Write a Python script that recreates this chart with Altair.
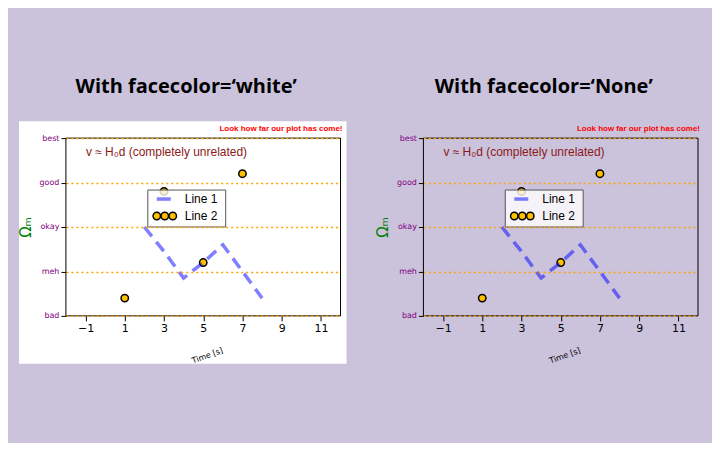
import altair as alt
import pandas as pd

line_x = [2, 3, 4, 5, 6, 7, 8]
line_y = [2.0, 1.45, 0.85, 1.2, 1.6, 1.0, 0.4]
pts_x = [1, 3, 5, 7]
pts_y = [0.4, 2.8, 1.2, 3.2]
levels = ["bad", "meh", "okay", "good", "best"]
titles = ["With facecolor=\u2018white\u2019", "With facecolor=\u2018None\u2019"]

W, H = 275, 178
one = pd.DataFrame({"a": [0]})

def panel(title, white):
    xs = alt.Scale(domain=[-2, 12], nice=False)
    ys = alt.Scale(domain=[0, 4], nice=False)
    xax = alt.Axis(values=[-1, 1, 3, 5, 7, 9, 11], grid=False, labelFontSize=11, labelColor="black",
                   tickColor="black", domain=False, title="Time  [s]", titleAngle=340, titleFontSize=8,
                   titleFontWeight="normal", titleY=36, titleX=140, zindex=1)
    yax = alt.Axis(values=[0, 1, 2, 3, 4], labelExpr="['bad','meh','okay','good','best'][datum.value]",
                   labelColor="#800080", labelFontSize=8, grid=True, gridColor="orange", gridDash=[2, 3],
                   gridWidth=1.5, domain=False, tickColor="black", title="\u03a9\u2098", titleColor="green",
                   titleFontSize=15, titleFontWeight="normal", titlePadding=6, zindex=1)
    layers = []
    layers.append(alt.Chart(one).mark_rect(color="white", opacity=1 if white else 0).encode(
        x=alt.value(-47), x2=alt.value(281), y=alt.value(-17), y2=alt.value(226)))
    ld = pd.DataFrame({"x": line_x, "y": line_y})
    pd_ = pd.DataFrame({"x": pts_x, "y": pts_y})
    layers.append(alt.Chart(pd_).mark_point(shape="circle", filled=True, fill="#ffc000", stroke="black",
                                            strokeWidth=1.5, size=55, opacity=1).encode(
        x=alt.X("x:Q", scale=xs, axis=xax), y=alt.Y("y:Q", scale=ys, axis=yax)))
    layers.append(alt.Chart(ld).mark_line(color="#0000ff", opacity=0.5, strokeWidth=3.5, strokeDash=[12, 7]).encode(
        x=alt.X("x:Q", scale=xs), y=alt.Y("y:Q", scale=ys)))
    layers.append(alt.Chart(one).mark_rect(fill=None, stroke="black", strokeWidth=1).encode(
        x=alt.value(0), x2=alt.value(W), y=alt.value(0), y2=alt.value(H)))
    layers.append(alt.Chart(one).mark_text(text="v \u2248 H\u2080d (completely unrelated)", align="left",
                                           fontSize=12, color="#8b1a1a").encode(x=alt.value(20), y=alt.value(14)))
    layers.append(alt.Chart(one).mark_text(text="Look how far our plot has come!", align="right",
                                           fontSize=8, fontWeight="bold", color="red").encode(
        x=alt.value(W + 2), y=alt.value(-9)))
    layers.append(alt.Chart(one).mark_text(text=title, align="center", baseline="middle",
                                           fontSize=20, fontWeight="bold", color="black", font="Open Sans").encode(
        x=alt.value(W / 2 - 17), y=alt.value(-51)))
    # legend
    layers.append(alt.Chart(one).mark_rect(fill="white", fillOpacity=0.8, stroke="#555", strokeWidth=1).encode(
        x=alt.value(82), x2=alt.value(160), y=alt.value(52), y2=alt.value(89)))
    layers.append(alt.Chart(one).mark_rule(color="#0000ff", opacity=0.5, strokeWidth=3.5).encode(
        x=alt.value(91), x2=alt.value(105), y=alt.value(61)))
    for cx in [91, 99, 107]:
        layers.append(alt.Chart(one).mark_point(shape="circle", filled=True, fill="#ffc000", stroke="black",
                                                strokeWidth=1.5, size=55, opacity=1).encode(
            x=alt.value(cx), y=alt.value(78)))
    layers.append(alt.Chart(pd.DataFrame({"t": ["Line 1", "Line 2"], "yy": [61, 78]})).mark_text(
        align="left", fontSize=12, color="black").encode(text="t:N", x=alt.value(119), y=alt.Y("yy:Q", scale=None)))
    return alt.layer(*layers).properties(width=W, height=H)

chart = alt.hconcat(panel(titles[0], True), panel(titles[1], False), spacing=29).properties(
    background="#cbc2dc", padding={"left": 10, "top": 69, "right": 8, "bottom": 77}
).configure_view(stroke=None).configure_axis(labelFont="DejaVu Sans", titleFont="DejaVu Sans")

chart.save("out.html", embed_options={"renderer": "svg", "actions": False})
